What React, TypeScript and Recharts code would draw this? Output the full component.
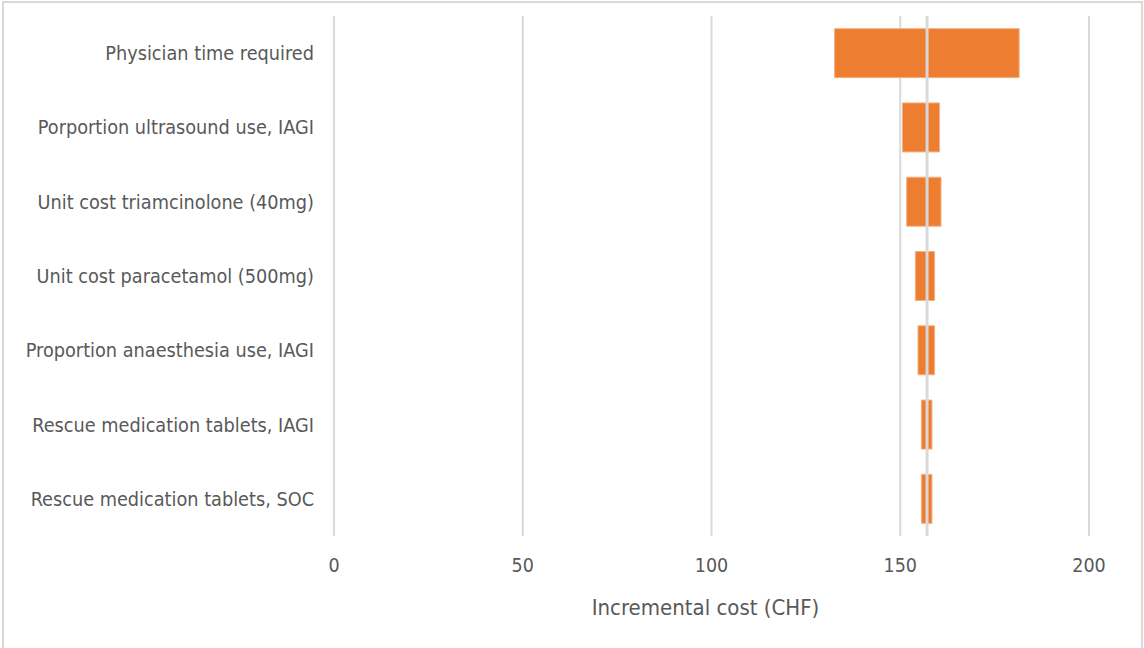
import { BarChart, Bar, XAxis, YAxis, CartesianGrid, ReferenceLine } from "recharts";

// Tornado chart: one-way sensitivity of incremental cost (CHF)
const categories = [
  "Physician time required",
  "Porportion ultrasound use, IAGI",
  "Unit cost triamcinolone (40mg)",
  "Unit cost paracetamol (500mg)",
  "Proportion anaesthesia use, IAGI",
  "Rescue medication tablets, IAGI",
  "Rescue medication tablets, SOC",
];
const lowValues = [132.6, 150.6, 151.7, 154.0, 154.7, 155.6, 155.6];
const highValues = [181.5, 160.4, 160.8, 159.1, 159.1, 158.4, 158.4];
const baseCase = 157.1;
const xTicks = [0, 50, 100, 150, 200];

const data = categories.map((name, i) => ({
  name,
  range: [lowValues[i], highValues[i]],
}));

const FONT = "'Liberation Sans Narrow', 'Arial Narrow', 'DejaVu Sans Condensed', sans-serif";
const TEXT = "#595959";
const GRID = "#d9d9d9";

export default function App() {
  return (
    <div
      style={{
        position: "absolute",
        left: 0,
        top: 0,
        width: 1144,
        height: 648,
        background: "#fff",
        fontFamily: FONT,
      }}
    >
      <div
        style={{
          position: "absolute",
          left: 2,
          top: 1,
          width: 1137,
          height: 660,
          border: `2px solid ${GRID}`,
        }}
      />
      <BarChart
        width={1144}
        height={648}
        data={data}
        layout="vertical"
        margin={{ top: 16, right: 55, bottom: 0, left: 0 }}
        barCategoryGap="17%"
      >
        <CartesianGrid horizontal={false} stroke={GRID} strokeWidth={2} />
        <XAxis
          type="number"
          domain={[0, 200]}
          ticks={xTicks}
          axisLine={false}
          tickLine={false}
          tickSize={0}
          tickMargin={22}
          height={112}
          tick={{ fill: TEXT, fontSize: 19.5, fontFamily: FONT }}
          label={{
            value: "Incremental cost (CHF)",
            position: "insideBottom",
            offset: 33,
            dx: -6,
            fill: TEXT,
            fontSize: 22,
            fontFamily: FONT,
          }}
        />
        <YAxis
          type="category"
          dataKey="name"
          width={334}
          axisLine={false}
          tickLine={false}
          tickSize={0}
          tickMargin={20}
          tick={{ fill: TEXT, fontSize: 19.7, fontFamily: FONT }}
        />
        <Bar
          dataKey="range"
          fill="#ED7D31"
          stroke="#F4B183"
          strokeWidth={1}
          isAnimationActive={false}
        />
        <ReferenceLine x={baseCase} stroke={GRID} strokeWidth={3} />
      </BarChart>
    </div>
  );
}
